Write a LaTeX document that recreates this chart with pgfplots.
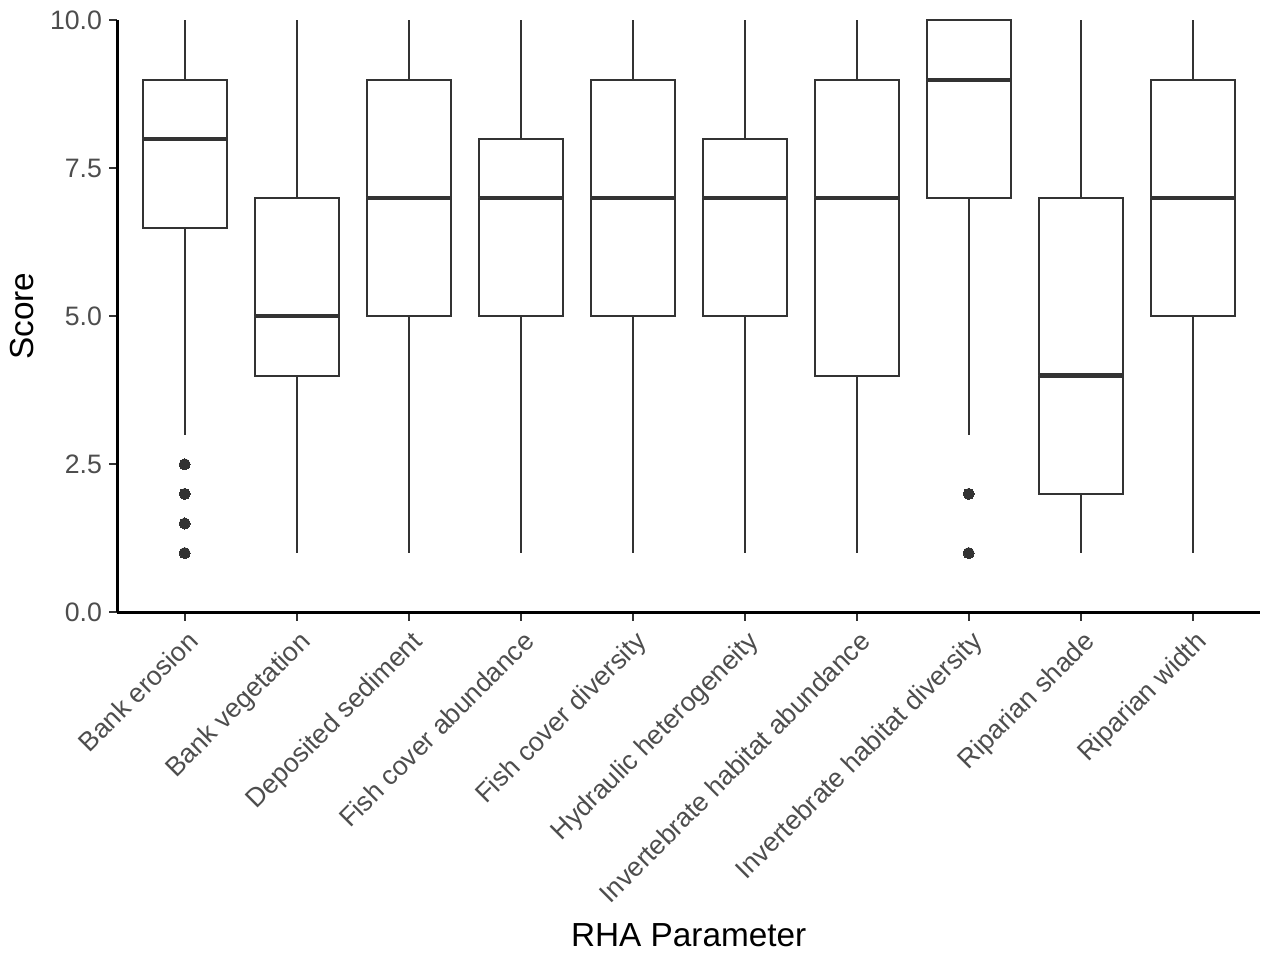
\documentclass[border=0pt]{standalone}
\usepackage{pgfplots}
\pgfplotsset{compat=1.18}
\usepgfplotslibrary{statistics}
\usepackage{fontspec}
\setmainfont{Liberation Sans}
\definecolor{cA}{HTML}{333333}
\definecolor{cB}{HTML}{4D4D4D}
\begin{document}
\begin{tikzpicture}
\useasboundingbox (-42.3pt,-123.0pt) rectangle (412.74pt,220.4pt);
\begin{axis}[
  at={(0,0)}, anchor=south west,
  scale only axis=true,
  width=411.26pt, height=213.05pt,
  xmin=-0.6, xmax=9.6, ymin=0, ymax=10,
  axis x line*=bottom, axis y line*=left,
  axis line style={black, line width=1.05pt},
  tick align=outside,
  major tick length=3pt,
  tick style={draw=cA, line width=0.75pt},
  xtick={0,1,2,3,4,5,6,7,8,9},
  xticklabels={Bank erosion,Bank vegetation,Deposited sediment,Fish cover abundance,Fish cover diversity,Hydraulic heterogeneity,Invertebrate habitat abundance,Invertebrate habitat diversity,Riparian shade,Riparian width},
  ytick={0,2.5,5,7.5,10},
  yticklabels={0.0,2.5,5.0,7.5,10.0},
  ticklabel style={font=\fontsize{9.6}{11}\selectfont, text=cB, inner sep=0pt},
  xticklabel style={rotate=45, anchor=north east, yshift=-2.4pt, xshift=-1.8pt},
  yticklabel style={anchor=east, xshift=-2.4pt},
  xlabel={RHA Parameter}, ylabel={Score},
  label style={font=\fontsize{12}{14}\selectfont, text=black},
  xlabel style={at={(axis description cs:0.5,-0.5459)}, anchor=center},
  ylabel style={at={(axis description cs:-0.0832,0.5)}, anchor=center},
  clip=false,
  boxplot/draw direction=y,
  boxplot/box extend=0.75,
  boxplot/every median/.style={line width=1.45pt},
  boxplot/draw/lower whisker/.code={\draw[/pgfplots/boxplot/every whisker/.try] (boxplot whisker cs:\pgfplotsboxplotvalue{lower quartile},0.5) -- (boxplot whisker cs:\pgfplotsboxplotvalue{lower whisker},0.5);},
  boxplot/draw/upper whisker/.code={\draw[/pgfplots/boxplot/every whisker/.try] (boxplot whisker cs:\pgfplotsboxplotvalue{upper quartile},0.5) -- (boxplot whisker cs:\pgfplotsboxplotvalue{upper whisker},0.5);},
  every axis plot/.append style={draw=cA, line width=0.72pt, fill=white, mark=*, mark size=2pt, mark options={fill=cA, draw=cA, line width=0pt}},
]
\addplot[boxplot prepared={draw position=0, lower whisker=3, lower quartile=6.5, median=8, upper quartile=9, upper whisker=10}] table[row sep=\\, y index=0] {y\\ 2.5\\ 2\\ 1.5\\ 1\\};
\addplot[boxplot prepared={draw position=1, lower whisker=1, lower quartile=4, median=5, upper quartile=7, upper whisker=10}] coordinates {};
\addplot[boxplot prepared={draw position=2, lower whisker=1, lower quartile=5, median=7, upper quartile=9, upper whisker=10}] coordinates {};
\addplot[boxplot prepared={draw position=3, lower whisker=1, lower quartile=5, median=7, upper quartile=8, upper whisker=10}] coordinates {};
\addplot[boxplot prepared={draw position=4, lower whisker=1, lower quartile=5, median=7, upper quartile=9, upper whisker=10}] coordinates {};
\addplot[boxplot prepared={draw position=5, lower whisker=1, lower quartile=5, median=7, upper quartile=8, upper whisker=10}] coordinates {};
\addplot[boxplot prepared={draw position=6, lower whisker=1, lower quartile=4, median=7, upper quartile=9, upper whisker=10}] coordinates {};
\addplot[boxplot prepared={draw position=7, lower whisker=3, lower quartile=7, median=9, upper quartile=10, upper whisker=10}] table[row sep=\\, y index=0] {y\\ 2\\ 1\\};
\addplot[boxplot prepared={draw position=8, lower whisker=1, lower quartile=2, median=4, upper quartile=7, upper whisker=10}] coordinates {};
\addplot[boxplot prepared={draw position=9, lower whisker=1, lower quartile=5, median=7, upper quartile=9, upper whisker=10}] coordinates {};
\end{axis}
\end{tikzpicture}
\end{document}
